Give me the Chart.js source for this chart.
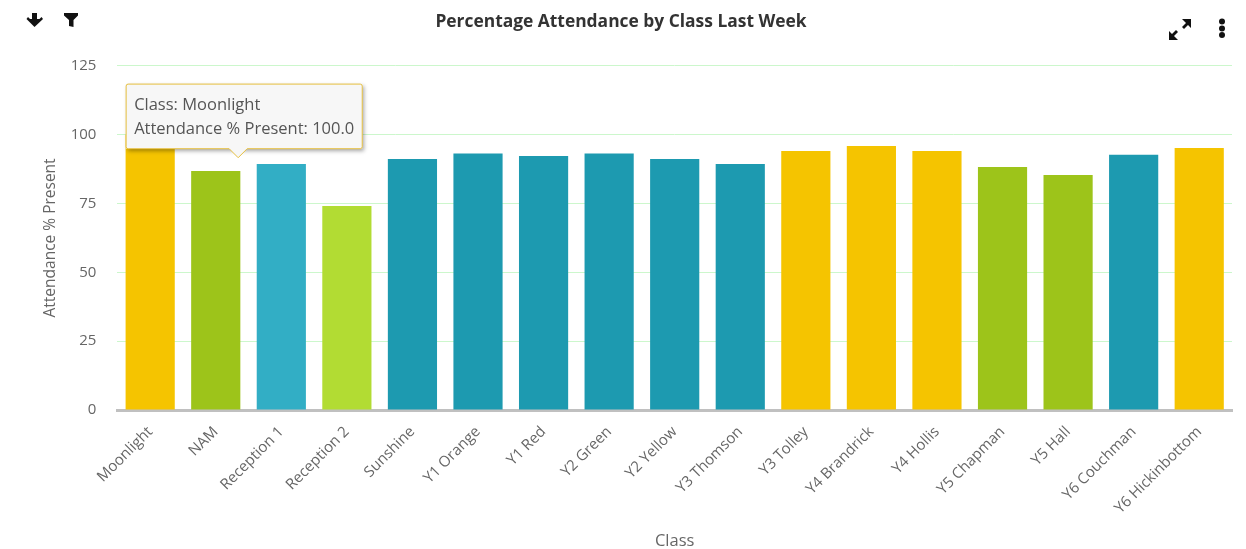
<!DOCTYPE html>
<html>
<head>
<meta charset="utf-8">
<title>Percentage Attendance by Class Last Week</title>
<script src="https://cdn.jsdelivr.net/npm/chart.js@4/dist/chart.umd.min.js"></script>
<style>
    html, body { margin: 0; padding: 0; background: #fff; overflow: hidden; }
    #wrap { position: relative; width: 1246px; height: 549px; }
    .icon { position: absolute; }
</style>
</head>
<body>
<div id="wrap">
    <canvas id="attendanceChart" width="1246" height="549"></canvas>
    <!-- toolbar icons -->
    <svg class="icon" style="left:26px;top:12px" width="18" height="16" viewBox="0 0 18 16">
        <path d="M6 1h5v6h2.5l2-2 1.5 2-8.5 8L0.5 7 2 5l2 2h2z" fill="#111"/>
    </svg>
    <svg class="icon" style="left:64px;top:13px" width="15" height="15" viewBox="0 0 15 15">
        <path d="M0 0h14v2.5L9.5 7v7L5 13V7L0 2.5z" fill="#111"/>
    </svg>
    <svg class="icon" style="left:1168px;top:17px" width="24" height="24" viewBox="0 0 24 24">
        <path d="M14 2h9v9l-3-3-4 4-2-2 4-4z M10 23H1v-9l3 3 4-4 2 2-4 4z" fill="#111"/>
    </svg>
    <svg class="icon" style="left:1218px;top:18px" width="8" height="21" viewBox="0 0 8 21">
        <circle cx="4" cy="3.5" r="3" fill="#111"/>
        <circle cx="4" cy="10.5" r="3" fill="#111"/>
        <circle cx="4" cy="17" r="3" fill="#111"/>
    </svg>
</div>
<script>
// chart data
const classes = ['Moonlight', 'NAM', 'Reception 1', 'Reception 2', 'Sunshine', 'Y1 Orange', 'Y1 Red', 'Y2 Green',
    'Y2 Yellow', 'Y3 Thomson', 'Y3 Tolley', 'Y4 Brandrick', 'Y4 Hollis', 'Y5 Chapman', 'Y5 Hall', 'Y6 Couchman',
    'Y6 Hickinbottom'];
const attendance = [100.0, 86.8, 89.4, 74.1, 91.2, 93.2, 92.3, 93.2, 91.2, 89.4, 94.1, 95.9, 94.1, 88.3, 85.4, 92.7, 95.2];
const yTicks = [0, 25, 50, 75, 100, 125];

const YELLOW = '#f5c400', GREEN = '#9dc41a', LIGHT_TEAL = '#32aec5', LIME = '#b2dc33', TEAL = '#1d9ab0';
const barColors = [YELLOW, GREEN, LIGHT_TEAL, LIME, TEAL, TEAL, TEAL, TEAL, TEAL, TEAL,
    YELLOW, YELLOW, YELLOW, GREEN, GREEN, TEAL, YELLOW];

const FONT = '"Open Sans", sans-serif';
const TEXT = '#666';

// the tooltip sits above the bar, off to its right, like the pinned one in the original
Chart.Tooltip.positioners.pinned = function (items) {
    if (!items.length) return false;
    const el = items[0].element;
    return { x: el.x + 88, y: el.y + 23 };
};

// soft shadow behind the tooltip box, nudged so the caret is not quite centred
const tooltipShadow = {
    id: 'tooltipShadow',
    beforeTooltipDraw(chart, args) {
        const tip = args.tooltip;
        tip.x = tip.caretX - tip.width / 2 + 6;
        const ctx = chart.ctx;
        ctx.save();
        ctx.shadowColor = 'rgba(0,0,0,0.35)';
        ctx.shadowBlur = 4;
        ctx.shadowOffsetX = 2;
        ctx.shadowOffsetY = 2;
        ctx.fillStyle = '#f7f7f7';
        ctx.fillRect(tip.x, tip.y, tip.width, tip.height);
        ctx.restore();
    }
};

const chart = new Chart(document.getElementById('attendanceChart').getContext('2d'), {
    type: 'bar',
    data: {
        labels: classes,
        datasets: [{
            label: 'Attendance % Present',
            data: attendance,
            backgroundColor: barColors,
            barPercentage: 0.75,
            categoryPercentage: 1
        }]
    },
    plugins: [tooltipShadow],
    options: {
        responsive: false,
        animation: false,
        events: [],
        layout: { padding: { left: 10, right: 14, top: 0, bottom: 0 } },
        scales: {
            x: {
                afterFit(scale) { scale.height = 139; },
                grid: { display: false },
                border: { color: '#c0c0c0', width: 3 },
                ticks: { color: TEXT, font: { family: FONT, size: 15 }, minRotation: 45, maxRotation: 45, autoSkip: false, padding: 5 },
                title: { display: true, text: 'Class', color: TEXT, font: { family: FONT, size: 16.5 }, padding: { top: 4, bottom: -2 } }
            },
            y: {
                min: 0,
                max: 125,
                afterBuildTicks(scale) {
                    scale.ticks = yTicks.map(v => ({ value: v }));
                },
                afterFit(scale) { scale.width = 107.4; },
                grid: { color: '#ccf7cc', drawTicks: false },
                border: { display: false },
                ticks: { color: TEXT, font: { family: FONT, size: 15 }, padding: 21 },
                title: { display: true, text: 'Attendance % Present', color: TEXT, font: { family: FONT, size: 15.5 }, padding: { top: 31, bottom: 0 } }
            }
        },
        plugins: {
            legend: { display: false },
            title: {
                display: true,
                text: 'Percentage Attendance by Class Last Week',
                color: '#333',
                font: { family: FONT, size: 17.4, weight: 'bold' },
                padding: { top: 12, bottom: 33 }
            },
            tooltip: {
                position: 'pinned',
                yAlign: 'bottom',
                xAlign: 'center',
                displayColors: false,
                backgroundColor: '#f7f7f7',
                borderColor: '#e6bf3f',
                borderWidth: 1,
                cornerRadius: 2,
                caretSize: 9,
                caretPadding: 0,
                padding: { left: 8, right: 8, top: 11, bottom: 10 },
                bodyColor: '#555',
                bodyFont: { family: FONT, size: 16.5 },
                bodySpacing: 4,
                callbacks: {
                    title: () => [],
                    label: ctx => ['Class: ' + ctx.label, 'Attendance % Present: ' + ctx.parsed.y.toFixed(1)]
                }
            }
        }
    }
});

chart.tooltip.setActiveElements([{ datasetIndex: 0, index: 0 }], { x: 0, y: 0 });
chart.update();
</script>
</body>
</html>
